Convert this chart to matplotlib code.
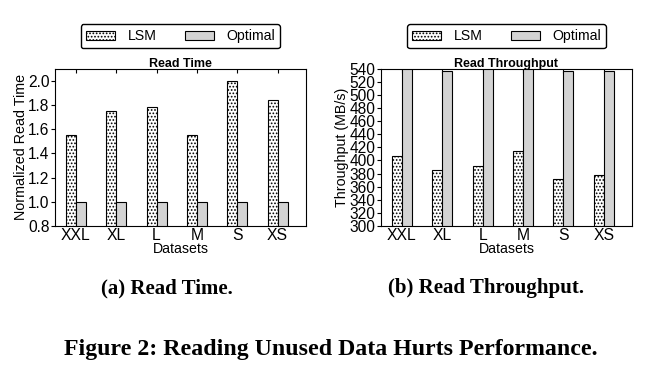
import numpy as np
import matplotlib
matplotlib.use('Agg')
import matplotlib.pyplot as plt

datasets = ['XXL', 'XL', 'L', 'M', 'S', 'XS']
time_lsm = [1.55, 1.75, 1.78, 1.55, 2.0, 1.84]
time_opt = [1.0, 1.0, 1.0, 1.0, 1.0, 1.0]
tput_lsm = [407, 386, 392, 415, 372, 378]
tput_opt = [541, 537, 541, 541, 537, 537]

plt.rcParams['font.family'] = ['Liberation Sans', 'DejaVu Sans']
plt.rcParams['hatch.linewidth'] = 0.8

fig = plt.figure(figsize=(6.62, 3.74), dpi=100)
w = 0.25
x = np.arange(len(datasets))


def draw(ax, lsm, opt, title, ylabel, ypad):
    ax.bar(x - w / 2, lsm, w, color='white', edgecolor='black', hatch='.....',
           linewidth=0.8, label='LSM')
    ax.bar(x + w / 2, opt, w, color='#d3d3d3', edgecolor='black',
           linewidth=0.8, label='Optimal')
    ax.set_axisbelow(True)
    ax.set_xticks(x)
    ax.set_xticklabels(datasets)
    ax.set_xlim(-0.52, 5.7)
    ax.tick_params(axis='x', direction='in', top=True, length=3, labelsize=11.3, pad=1.5)
    ax.tick_params(axis='y', direction='out', length=3, labelsize=11.2, pad=1)
    ax.set_xlabel('Datasets', fontsize=10.2, labelpad=-1)
    ax.set_ylabel(ylabel, fontsize=10.3, labelpad=ypad)
    ax.set_title(title, fontsize=9, fontweight='bold', pad=1.5)
    ax.legend(loc='lower center', bbox_to_anchor=(0.5, 1.085), ncol=2, fontsize=10.2,
              handlelength=2.1, handleheight=0.6, handletextpad=0.85,
              columnspacing=2.0, borderpad=0.35, frameon=True, edgecolor='black',
              fancybox=True, framealpha=1)


ax1 = fig.add_axes([0.083, 0.396, 0.379, 0.42])
draw(ax1, time_lsm, time_opt, 'Read Time', 'Normalized Read Time', 0)
ax1.set_ylim(0.8, 2.1)
ax1.set_yticks(np.arange(0.8, 2.01, 0.2))
ax1.set_yticklabels(['%.1f' % v for v in np.arange(0.8, 2.01, 0.2)])

ax2 = fig.add_axes([0.5755, 0.396, 0.379, 0.42])
draw(ax2, tput_lsm, tput_opt, 'Read Throughput', 'Throughput (MB/s)', 0.5)
ax2.set_ylim(300, 540)
ax2.set_yticks(np.arange(300, 541, 20))

cap = dict(family=['Liberation Serif', 'DejaVu Serif'], fontweight='bold',
           ha='center', va='center')
fig.text(167 / 662, 1 - 288 / 374, '(a) Read Time.', fontsize=15, **cap)
fig.text(486 / 662, 1 - 288 / 374, '(b) Read Throughput.', fontsize=15, **cap)
fig.text(331 / 662, 1 - 349 / 374, 'Figure 2: Reading Unused Data Hurts Performance.',
         fontsize=17.2, **cap)

fig.savefig('out.png', dpi=100)
